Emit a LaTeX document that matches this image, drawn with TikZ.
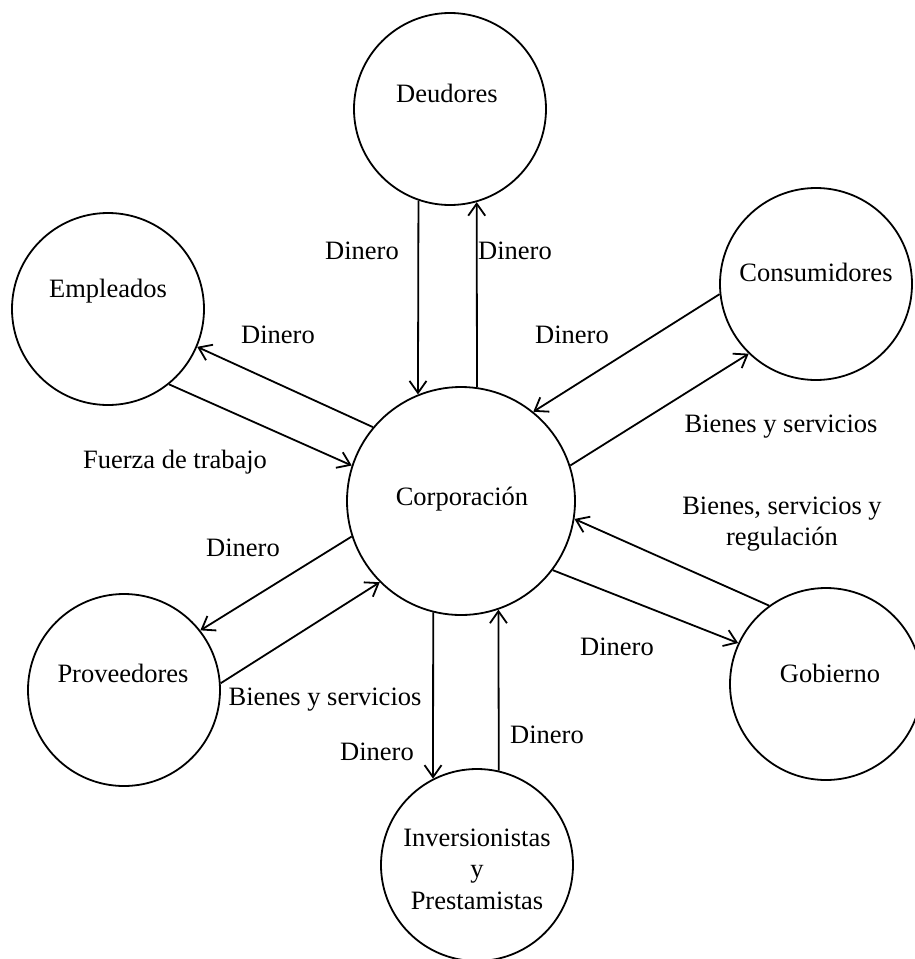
\documentclass[tikz,border=0pt]{standalone}
\usepackage{fontspec}
\setmainfont{Liberation Serif}
\usetikzlibrary{arrows.meta}
\tikzset{
  agent/.style={draw, circle, line width=1.8pt, inner sep=0pt, minimum size=192pt},
  hub/.style={agent, minimum size=228pt},
  tag/.style={font=\fontsize{26.5}{31.5}\selectfont, inner sep=1pt, align=center},
  flow/.style={-{Straight Barb[length=12pt, width=17pt]}, line width=1.8pt},
}

\begin{document}
\begin{tikzpicture}[x=1pt, y=-1pt]
\useasboundingbox (0,0) rectangle (915,959);

%% circles
\node[hub]   (corp) at (461,501) {};
\node[agent] (deu)  at (450,109) {};
\node[agent] (emp)  at (108,309) {};
\node[agent] (cons) at (816,284) {};
\node[agent] (prov) at (124,690) {};
\node[agent] (gob)  at (826,684) {};
\node[agent] (inv)  at (477,865) {};

% names inside the circles
\node[tag] (corp-t) at (462,499) {Corporación};
\node[tag] (deu-t)  at (447,93)  {Deudores};
\node[tag] (emp-t)  at (108,291) {Empleados};
\node[tag] (cons-t) at (816,272) {Consumidores};
\node[tag] (prov-t) at (123,673) {Proveedores};
\node[tag] (gob-t)  at (830,673) {Gobierno};
\node[tag] (inv-t)  at (477,869) {Inversionistas\\y\\Prestamistas};

%% flows (vertical pairs)
\draw[flow] (deu.-109.5) -- (corp.112.2);
\draw[flow] (corp.82.4)  -- (deu.-74.3);
\draw[flow] (corp.-104.2) -- (inv.117.6);
\draw[flow] (inv.77.8)   -- (corp.-71.6);

%% flows (slanted pairs)
\draw[flow] (corp.140)   -- (emp.-23.4);
\draw[flow] (emp.-51.7)  -- (corp.162.4);
\draw[flow] (cons.186)   -- (corp.51.6);
\draw[flow] (corp.18.7)  -- (cons.-134.6);
\draw[flow] (gob.126.4)  -- (corp.-9.5);
\draw[flow] (corp.-37)   -- (gob.155.7);
\draw[flow] (corp.198.4) -- (prov.38.7);
\draw[flow] (prov.4.6)   -- (corp.-135);

%% labels
\foreach \i/\x/\y in {1/362/251, 2/515/251, 3/278/335, 4/572/335,
                      5/243/548, 6/617/647, 7/377/752, 8/547/735}
  \node[tag] (din\i) at (\x,\y) {Dinero};
\node[tag] (fuerza) at (175,462) {Fuerza de trabajo};
\node[tag] (bys1)   at (781,427) {Bienes y servicios};
\node[tag] (bys2)   at (325,700) {Bienes y servicios};
\node[tag] (bsr)    at (782,524) {Bienes, servicios y\\regulación};

\end{tikzpicture}
\end{document}
